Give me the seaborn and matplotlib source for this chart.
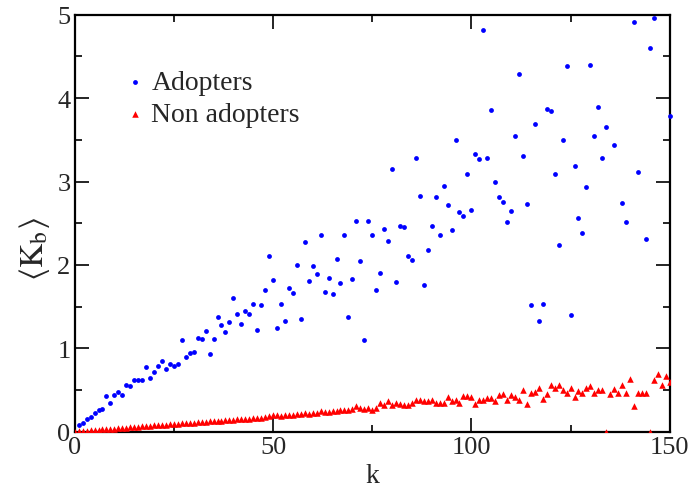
import numpy as np
import pandas as pd
import matplotlib
matplotlib.use("Agg")
import matplotlib.pyplot as plt
import seaborn as sns
from matplotlib.ticker import MultipleLocator

sns.set_theme(style="ticks")
plt.rcParams['font.family'] = ['Liberation Serif', 'DejaVu Serif']
plt.rcParams['mathtext.fontset'] = 'stix'

# Adopters: k = 1..150 (nan where no point visible)
adopters = [
    0.08, 0.108, 0.149, 0.176, 0.22, 0.26, 0.276, 0.43, 0.35, 0.436,
    0.48, 0.444, 0.56, 0.548, 0.616, 0.616, 0.624, 0.77, 0.644, 0.72,
    0.79, 0.85, 0.755, 0.81, 0.79, 0.808, 1.096, 0.892, 0.947, 0.96,
    1.123, 1.108, 1.211, 0.928, 1.115, 1.375, 1.283, 1.199, 1.319, 1.599,
    1.411, 1.291, 1.451, 1.407, 1.531, 1.215, 1.519, 1.699, 2.107, 1.823,
    1.24, 1.531, 1.323, 1.719, 1.663, 1.999, 1.347, 2.271, 1.811, 1.983,
    1.887, 2.362, 1.671, 1.843, 1.651, 2.067, 1.779, 2.362, 1.379, 1.835,
    2.53, 2.043, 1.10, 2.523, 2.362, 1.699, 1.903, 2.434, 2.29, 3.146,
    1.795, 2.47, 2.454, 2.103, 2.062, 3.278, 2.826, 1.759, 2.179, 2.466,
    2.81, 2.362, 2.942, 2.714, 2.415, 3.498, 2.63, 2.586, 3.086, 2.662,
    3.333, 3.273, 4.813, 3.285, 3.857, 2.998, 2.81, 2.75, 2.52, 2.65,
    3.542, 4.289, 3.309, 2.726, 1.515, 3.69, 1.331, 1.535, 3.865, 3.845,
    3.086, 2.242, 3.498, 4.381, 1.403, 3.19, 2.562, 2.386, 2.93, 4.40,
    3.542, 3.897, 3.278, 3.65, np.nan, 3.434, np.nan, 2.742, 2.514, np.nan,
    4.912, 3.114, np.nan, 2.31, 4.597, 4.964, np.nan, np.nan, np.nan, 3.782,
]
k_adopters = list(range(1, 151))

# Non adopters: k = 0..150
non_adopters = [
    0.00,
    0.005, 0.01, 0.013, 0.017, 0.02, 0.024, 0.028, 0.031, 0.035, 0.038,
    0.042, 0.045, 0.05, 0.053, 0.057, 0.06, 0.064, 0.068, 0.071, 0.075,
    0.078, 0.081, 0.085, 0.088, 0.092, 0.095, 0.099, 0.102, 0.106, 0.109,
    0.112, 0.116, 0.12, 0.123, 0.127, 0.13, 0.134, 0.137, 0.14, 0.145,
    0.148, 0.151, 0.155, 0.158, 0.162, 0.165, 0.17, 0.18, 0.19, 0.205,
    0.195, 0.19, 0.2, 0.205, 0.2, 0.21, 0.215, 0.22, 0.215, 0.225,
    0.23, 0.245, 0.235, 0.24, 0.25, 0.245, 0.255, 0.26, 0.265, 0.27,
    0.305, 0.28, 0.27, 0.285, 0.26, 0.29, 0.344, 0.32, 0.368, 0.32,
    0.34, 0.33, 0.32, 0.316, 0.34, 0.38, 0.38, 0.368, 0.368, 0.376,
    0.344, 0.344, 0.344, 0.412, 0.372, 0.38, 0.344, 0.43, 0.426, 0.42,
    0.336, 0.376, 0.38, 0.40, 0.40, 0.37, 0.444, 0.456, 0.38, 0.44,
    0.42, 0.376, 0.50, 0.336, 0.468, 0.48, 0.524, 0.39, 0.456, 0.564,
    0.524, 0.564, 0.50, 0.47, 0.524, 0.42, 0.49, 0.47, 0.524, 0.544,
    0.464, 0.50, 0.50, 0.0, 0.456, 0.51, 0.464, 0.56, 0.47, 0.632,
    0.31, 0.47, 0.47, 0.464, 0.0, 0.62, 0.69, 0.56, 0.67, 0.60,
]
k_non = list(range(0, 151))

x_ticks = [0, 50, 100, 150]
y_ticks = [0, 1, 2, 3, 4, 5]

df_a = pd.DataFrame({"k": k_adopters, "v": adopters})
df_n = pd.DataFrame({"k": k_non, "v": non_adopters})

fig = plt.figure(figsize=(6.93, 4.89), dpi=100)
ax = fig.add_axes([0.1078, 0.1151, 0.8586, 0.8528])

sns.scatterplot(data=df_a, x="k", y="v", ax=ax, color="#0000ff", marker="o",
                s=12, linewidth=0, label="Adopters", clip_on=False, zorder=3)
sns.scatterplot(data=df_n, x="k", y="v", ax=ax, color="#ff0000", marker="^",
                s=22, linewidth=0, label="Non adopters", zorder=3)

ax.set_xlim(0, 150)
ax.set_ylim(0, 5)
ax.set_xticks(x_ticks)
ax.set_yticks(y_ticks)
ax.xaxis.set_minor_locator(MultipleLocator(25))
ax.yaxis.set_minor_locator(MultipleLocator(0.5))
ax.tick_params(which="both", direction="in", top=True, right=True,
               labelsize=19, color="black", width=1.2)
ax.tick_params(which="major", length=10, pad=3)
ax.tick_params(which="minor", length=5)
for sp in ax.spines.values():
    sp.set_linewidth(1.6)
    sp.set_color("black")

ax.set_xlabel("k", fontsize=20, labelpad=4)
ax.set_ylabel(r"$\langle \mathrm{K}_\mathrm{b}\rangle$", fontsize=24, labelpad=4, y=0.44)

leg = ax.legend(loc="upper left", bbox_to_anchor=(0.045, 0.915), frameon=False,
                fontsize=20, handletextpad=0.1, borderpad=0.2,
                labelspacing=0.25, handlelength=1.0, markerscale=1.0)

fig.savefig("out.png", dpi=100)
